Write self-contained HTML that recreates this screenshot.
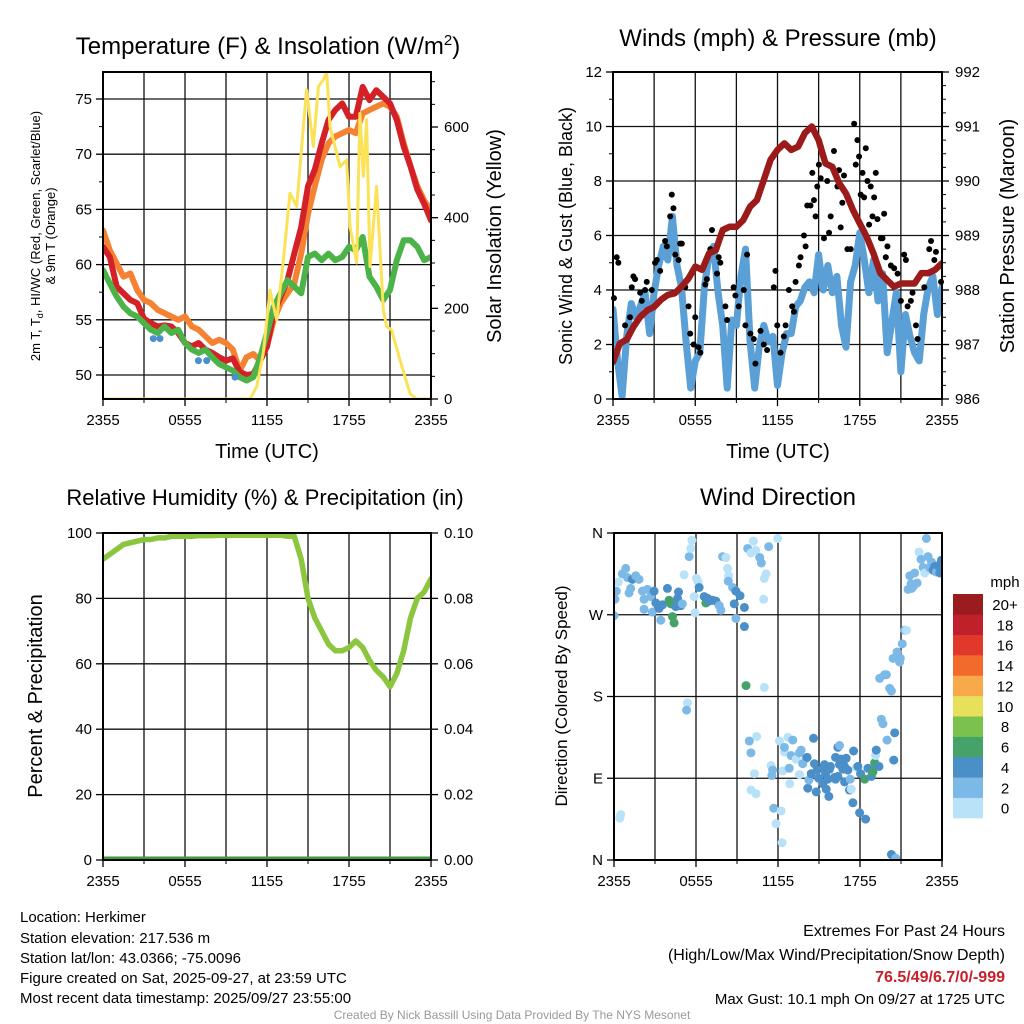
<!DOCTYPE html>
<html><head><meta charset="utf-8"><title>Herkimer Mesonet</title>
<style>
html,body{margin:0;padding:0;background:#fff;}
svg{display:block;font-family:"Liberation Sans",Arial,sans-serif;}
</style></head>
<body>
<svg id="chart" width="1024" height="1024" viewBox="0 0 1024 1024" xmlns="http://www.w3.org/2000/svg">
<rect width="1024" height="1024" fill="#fff"/>
<defs>
<clipPath id="c1"><rect x="103" y="72" width="328" height="327"/></clipPath>
<clipPath id="c2"><rect x="613" y="72" width="329" height="327"/></clipPath>
<clipPath id="c3"><rect x="103" y="533" width="328" height="327"/></clipPath>
<clipPath id="c4"><rect x="614" y="533" width="328" height="327"/></clipPath>
</defs>
<g id="grid"></g>
<g id="series"></g>
<g id="axes"></g>

<text x="268" y="54" font-size="24" text-anchor="middle">Temperature (F) &amp; Insolation (W/m<tspan dy="-9" font-size="15">2</tspan><tspan dy="9">)</tspan></text>
<text transform="translate(40,236) rotate(-90)" font-size="13" text-anchor="middle">2m T, T<tspan dy="3" font-size="9">d</tspan><tspan dy="-3">, HI/WC (Red, Green, Scarlet/Blue)</tspan></text>
<text transform="translate(55,236) rotate(-90)" font-size="13" text-anchor="middle">&amp; 9m T (Orange)</text>
<text transform="translate(501,236) rotate(-90)" font-size="20" text-anchor="middle">Solar Insolation (Yellow)</text>
<text x="267" y="458" font-size="20" text-anchor="middle">Time (UTC)</text>

<text x="778" y="46" font-size="24" text-anchor="middle">Winds (mph) &amp; Pressure (mb)</text>
<text transform="translate(572,236) rotate(-90)" font-size="18" text-anchor="middle">Sonic Wind &amp; Gust (Blue, Black)</text>
<text transform="translate(1014,236) rotate(-90)" font-size="20" text-anchor="middle">Station Pressure (Maroon)</text>
<text x="778" y="458" font-size="20" text-anchor="middle">Time (UTC)</text>

<text x="265" y="505" font-size="22" text-anchor="middle">Relative Humidity (%) &amp; Precipitation (in)</text>
<text transform="translate(42,696) rotate(-90)" font-size="20" text-anchor="middle">Percent &amp; Precipitation</text>

<text x="778" y="505" font-size="24" text-anchor="middle">Wind Direction</text>
<text transform="translate(567,696) rotate(-90)" font-size="17" text-anchor="middle">Direction (Colored By Speed)</text>

<g id="colorbar"></g>
<text x="1005" y="587" font-size="15" text-anchor="middle">mph</text>

<g font-size="15">
<text x="20" y="922">Location: Herkimer</text>
<text x="20" y="943">Station elevation: 217.536 m</text>
<text x="20" y="963">Station lat/lon: 43.0366; -75.0096</text>
<text x="20" y="983">Figure created on Sat, 2025-09-27, at 23:59 UTC</text>
<text x="20" y="1003">Most recent data timestamp: 2025/09/27 23:55:00</text>
</g>
<g font-size="16" text-anchor="end">
<text x="1005" y="936">Extremes For Past 24 Hours</text>
<text x="1005" y="960">(High/Low/Max Wind/Precipitation/Snow Depth)</text>
<text x="1005" y="982" fill="#c8202a" font-weight="bold">76.5/49/6.7/0/-999</text>
<text x="1005" y="1004" font-size="15">Max Gust: 10.1 mph On 09/27 at 1725 UTC</text>
</g>
<text x="512" y="1019" font-size="12" fill="#999" text-anchor="middle">Created By Nick Bassill Using Data Provided By The NYS Mesonet</text>
</svg>
<script>
// ---------- DATA ----------
const timeLabels = ["2355","0555","1155","1755","2355"];
const tempTicks = [50,55,60,65,70,75];
const solarTicks = [0,200,400,600];
const windTicks = [0,2,4,6,8,10,12];
const presTicks = [986,987,988,989,990,991,992];
const rhTicks = [0,20,40,60,80,100];
const precipTicks = ["0.00","0.02","0.04","0.06","0.08","0.10"];
const dirLabels = ["N","E","S","W","N"];
const speedBins = ["0","2","4","6","8","10","12","14","16","18","20+"];
const speedColors = ["#b8e2f8","#7db9e6","#4a8fc8","#45a36a","#7bc14e","#e8e05a","#f8a94a","#f26a2c","#e0392b","#c0202a","#9b1c1f"];

const tempT = [61.6,60.7,58.0,57.4,56.8,56.5,55.1,54.7,54.4,54.5,54.4,53.8,52.9,52.6,52.9,52.3,52.0,51.6,51.3,51.5,50.3,50.0,50.1,51.3,52.6,55.6,57.1,58.6,61.0,63.4,67.1,68.6,71.0,73.1,74.0,74.6,73.4,73.4,76.1,74.9,75.8,75.2,74.6,73.1,70.7,68.9,66.8,65.5,64.0];
const temp9m = [63.1,61.3,60.1,58.9,59.2,57.7,56.8,56.5,55.9,55.6,55.3,55.0,55.3,54.4,54.1,53.5,52.9,53.2,52.9,52.3,50.4,51.6,51.9,51.3,52.6,55.0,56.5,57.4,58.3,61.0,64.6,67.1,69.5,71.0,71.6,71.9,72.2,71.9,73.7,74.0,74.3,74.6,74.3,73.4,71.0,68.9,67.1,65.8,64.9];
const dewT = [59.5,58.3,57.1,56.2,55.6,55.3,54.7,54.1,53.8,54.4,53.8,54.1,52.9,52.3,52.0,52.3,51.6,51.0,50.7,50.4,49.8,49.5,49.8,51.6,53.8,56.2,57.4,58.6,58.0,57.4,60.7,61.0,60.4,61.0,60.4,60.7,61.6,61.3,62.5,58.9,58.0,56.8,57.7,60.4,62.2,62.2,61.6,60.4,60.7];
const wcHour = [3.68,4.17,6.98,7.59,9.66];
const wcTemp = [53.3,53.3,51.3,51.3,49.8];
const solarHour = [0,10.75,11.24,11.73,12.22,12.71,13.2,13.68,14.17,14.66,14.9,15.39,15.76,16.12,16.37,16.61,17.1,17.34,17.83,18.07,18.56,18.8,19.05,19.29,19.54,20.02,20.51,20.76,21.12,21.73,22.46,22.95,24];
const solarVal = [0,0,27,101,240,174,307,454,425,601,682,557,689,704,722,601,542,513,527,380,300,630,491,616,292,469,196,160,152,86,12,0,0];

const presMb = [986.68,987.02,987.09,987.33,987.51,987.63,987.69,987.82,987.91,987.94,988.06,988.21,988.43,988.37,988.67,988.73,989.10,989.16,989.16,989.28,989.53,989.65,990.02,990.39,990.57,990.69,990.57,990.63,990.88,991.0,990.75,990.32,990.26,989.96,989.77,989.47,989.22,988.98,988.67,988.31,988.18,988.06,988.12,988.12,988.12,988.31,988.31,988.37,988.49];
const windMph = [3.3,1.4,0.1,2.3,3.5,3.0,3.4,3.9,2.4,3.9,4.9,5.6,5.1,6.7,4.9,4.1,2.1,0.4,1.4,1.7,4.1,5.3,5.6,3.9,2.7,0.4,2.9,2.7,4.5,5.5,2.1,0.4,1.9,2.7,2.1,2.3,0.5,1.7,2.4,2.4,3.4,3.6,4.1,4.3,3.9,5.3,4.0,4.9,3.9,4.5,2.7,1.9,4.3,4.9,6.1,5.1,3.9,5.1,3.6,4.6,1.7,2.8,3.9,1.0,3.1,2.3,1.7,1.4,3.1,4.1,4.5,3.1,4.1];
const gustHour = [0.07,0.27,0.39,0.88,1.24,1.49,1.61,1.37,1.98,2.10,2.34,2.46,2.83,3.07,3.20,3.44,3.80,3.93,4.17,4.29,4.41,4.54,4.78,4.90,5.02,5.27,5.51,5.63,5.88,6.00,6.24,6.37,6.73,6.85,7.10,7.22,7.71,7.83,7.59,8.20,8.32,8.80,8.93,9.17,9.54,9.78,9.66,10.02,10.27,10.39,10.76,11.00,11.24,11.73,11.85,11.98,12.22,12.46,12.59,12.83,13.07,13.20,13.32,13.56,13.68,13.93,14.05,14.17,14.41,14.54,14.66,14.78,14.90,15.02,15.15,15.39,15.63,15.76,15.88,16.12,16.37,16.49,16.61,16.73,16.85,17.10,17.34,17.59,17.71,17.83,17.95,18.07,18.20,18.32,18.44,18.56,18.68,18.80,18.93,19.05,19.17,19.29,19.54,19.66,19.78,19.90,20.02,20.27,20.51,20.76,21.00,21.24,21.37,21.49,21.73,21.85,22.10,22.22,22.71,23.07,23.20,23.44,23.56,23.93];
const gustMph = [3.7,5.2,5.0,2.7,3.0,4.5,4.4,4.1,3.9,3.6,4.0,4.3,4.0,5.0,5.1,4.7,5.8,5.6,6.7,7.5,7.0,5.3,5.1,5.7,5.7,4.1,3.4,2.4,2.0,3.0,1.9,1.7,4.2,4.4,5.5,6.2,5.2,5.0,4.6,3.4,2.9,4.1,3.8,3.4,4.0,5.3,2.7,2.4,2.2,1.3,2.5,2.0,1.8,4.1,4.7,2.7,1.7,2.3,2.7,4.0,3.4,3.2,4.3,4.9,5.2,6.0,5.6,7.1,7.1,8.3,7.3,6.7,7.8,8.6,8.1,5.9,8.0,6.1,6.7,9.1,7.8,8.4,6.3,7.2,8.2,5.5,5.5,10.1,8.6,9.5,8.9,7.5,8.3,7.4,9.2,8.0,6.4,7.8,6.7,7.4,8.3,6.6,5.9,5.9,6.8,5.2,5.6,4.9,4.8,4.6,3.6,5.3,5.1,3.4,3.6,3.9,2.7,2.2,4.1,5.5,5.8,5.1,5.4,4.3];

const rhPct = [92,93.5,95,96.5,97,97.5,98,98,98.5,98.5,99,99,99,99,99.2,99.2,99.2,99.3,99.3,99.3,99.3,99.3,99.3,99.3,99.3,99.3,99.3,99,99,92,80,74,70,66,64,64,65,67,65,61,58,56,53,57,64,74,80,82,86,88].slice(0,49);
const precipIn = [0,0,0,0,0,0,0,0,0,0,0,0,0,0,0,0,0,0,0,0,0,0,0,0,0,0,0,0,0,0,0,0,0,0,0,0,0,0,0,0,0,0,0,0,0,0,0,0,0];

const dirHour = [0,0.07,0.17,0.32,0.61,0.86,0.98,1.34,1.22,1.1,1.59,1.83,2.08,2.2,2.2,2.44,2.69,2.93,3.06,2.81,3.3,3.42,3.55,3.91,4.03,4.16,4.28,4.4,4.52,4.65,4.72,4.89,5.0,5.5,5.62,5.7,5.13,5.38,5.31,5.87,5.93,6.04,6.15,6.23,6.6,6.72,6.97,6.85,7.21,7.46,7.7,7.82,7.95,8.19,8.31,8.39,8.36,8.68,8.8,8.92,8.92,9.22,9.54,9.54,9.66,9.78,10.02,10.2,10.37,10.66,10.78,11.0,11.13,10.95,11.32,11.98,11.0,
0.49,0.42,9.9,10.02,10.44,10.27,10.02,10.39,11.49,11.61,11.55,11.69,11.86,12.23,12.3,12.35,12.11,12.47,12.72,12.47,12.82,12.96,12.86,13.08,13.33,13.57,13.57,13.69,13.81,14.06,14.18,14.26,14.43,14.6,14.13,14.67,14.8,14.87,14.97,15.28,15.4,15.48,15.28,15.53,15.65,15.72,15.77,15.84,16.14,16.21,16.38,16.38,16.5,16.21,16.75,16.87,16.99,16.87,17.11,17.23,17.28,17.36,17.48,17.53,17.73,17.85,17.97,18.04,18.34,18.41,18.58,18.83,18.9,18.95,19.07,19.14,19.19,19.39,20.54,20.47,16.5,16.62,
19.56,19.68,19.98,20.3,20.61,19.44,19.8,19.93,20.17,20.3,20.42,20.71,20.95,20.9,21.09,21.28,21.4,21.52,21.74,21.64,21.89,21.77,22.0,22.18,22.32,22.47,22.62,22.74,22.86,22.98,23.1,23.23,23.35,23.47,23.59,23.71,23.84,23.96];
const dirDeg = [269,287,296,306,315,321,311,309,299,294,313,309,296,287,276,298,290,296,283,273,277,264,281,299,286,282,268,261,279,288,295,280,282,334,343,352,314,173,165,290,272,310,306,300,290,283,285,288,286,285,280,275,334,333,321,313,307,300,282,266,296,291,278,257,192,343,338,351,341,333,327,310,315,287,345,354,190,
50,46,131,118,136,95,77,73,104,99,93,57,40,54,19,98,131,119,135,124,101,115,84,132,111,118,94,121,106,112,79,88,95,134,113,106,75,99,90,101,105,95,84,78,89,70,100,103,91,89,92,124,126,113,100,86,112,103,99,77,89,78,63,120,102,103,52,95,89,45,101,92,98,97,107,115,121,103,140,110,105,111,155,150,132,6,2,
200,204,204,189,186,222,229,222,218,238,253,253,298,304,313,301,299,316,305,339,331,322,316,354,334,322,328,319,323,317,324,316,330,324,317,312,315,311];
const dirSpeed = [2.5,2.5,2.5,1,2.5,2.5,2.5,4.5,2.5,2.5,2.5,2.5,2.5,2.5,2.5,2.5,2.5,4.5,4.5,2.5,4.5,2.5,4.5,4.5,6.5,6.5,6.5,6.5,4.5,4.5,4.5,4.5,2.5,2.5,1,1,1,1,2.5,1,1,1,1,4.5,4.5,6.5,4.5,4.5,4.5,4.5,2.5,2.5,2.5,1,1,1,2.5,2.5,4.5,2.5,4.5,4.5,4.5,4.5,6.5,2.5,1,1,1,2.5,2.5,1,1,1,2.5,1,1,
1,1,2.5,2.5,1,1,1,1,1,2.5,2.5,2.5,1,1,1,1,1,1,1,2.5,2.5,2.5,1,2.5,1,2.5,1,2.5,2.5,2.5,4.5,2.5,4.5,4.5,4.5,4.5,4.5,4.5,4.5,4.5,4.5,4.5,4.5,4.5,4.5,4.5,4.5,4.5,4.5,4.5,4.5,4.5,2.5,4.5,4.5,4.5,4.5,4.5,4.5,4.5,2.5,1,4.5,4.5,1,4.5,4.5,4.5,6.5,4.5,4.5,4.5,4.5,6.5,6.5,1,4.5,4.5,4.5,4.5,4.5,4.5,2.5,2.5,2.5,4.5,2.5,
2.5,2.5,2.5,2.5,2.5,2.5,2.5,2.5,2.5,2.5,2.5,1,2.5,2.5,2.5,2.5,2.5,2.5,2.5,1,2.5,2.5,1,2.5,2.5,2.5,2.5,4.5,4.5,2.5,4.5,4.5,4.5,2.5,2.5,4.5,4.5];

// ---------- SCALES ----------
const NS = "http://www.w3.org/2000/svg";
const gGrid = document.getElementById('grid');
const gSer = document.getElementById('series');
const gAx = document.getElementById('axes');
function mk(tag, parent){ const e = document.createElementNS(NS, tag); parent.appendChild(e); return e; }
const xL = h => 103 + h * (328/24);
const xR = h => 613 + h * (329/24);
const xR4 = h => 614 + h * (328/24);
const yTemp = v => 375 - (v - 50) * 11.04;
const ySol = w => 399 - w * 0.4533;
const yWind = m => 399 - m * 27.25;
const yPres = p => 399 - (p - 986) * 54.5;
const yRH = r => 860 - r * 3.27;
const yPrec = p => 860 - p * 3270;
const yDir = d => 860 - d / 360 * 327;
const halfHours = tempT.map((_, i) => i * 0.5);
const thirdHours = windMph.map((_, i) => i / 3);
function speedColor(s){ let i = Math.min(speedColors.length - 1, Math.floor(s / 2)); return speedColors[i]; }

function line(parent, x1, y1, x2, y2, stroke, w){
  const l = mk('line', parent);
  l.setAttribute('x1', x1); l.setAttribute('y1', y1); l.setAttribute('x2', x2); l.setAttribute('y2', y2);
  l.setAttribute('stroke', stroke); l.setAttribute('stroke-width', w);
  return l;
}
function txt(parent, x, y, s, anchor, size){
  const t = mk('text', parent);
  t.setAttribute('x', x); t.setAttribute('y', y); t.setAttribute('font-size', size || 15);
  t.setAttribute('text-anchor', anchor); t.textContent = s;
  return t;
}
function poly(parent, xs, ys, stroke, w, clip){
  const p = mk('polyline', parent);
  p.setAttribute('points', xs.map((x, i) => x.toFixed(1) + ',' + ys[i].toFixed(1)).join(' '));
  p.setAttribute('fill', 'none'); p.setAttribute('stroke', stroke); p.setAttribute('stroke-width', w);
  p.setAttribute('stroke-linejoin', 'round'); p.setAttribute('stroke-linecap', 'round');
  p.setAttribute('clip-path', 'url(#' + clip + ')');
  return p;
}

// ---------- GRIDS & AXES ----------
const panels = [
  {x0:103, x1:431, y0:72, y1:399, xf:xL, name:'temp'},
  {x0:613, x1:942, y0:72, y1:399, xf:xR, name:'winds'},
  {x0:103, x1:431, y0:533, y1:860, xf:xL, name:'humidity'},
  {x0:614, x1:942, y0:533, y1:860, xf:xR4, name:'direction'}
];
panels.forEach(P => {
  for (let h = 3; h < 24; h += 3) {
    const g = line(gGrid, P.xf(h), P.y0, P.xf(h), P.y1, '#111', 1.3);
    
    
  }
  const fr = mk('rect', gAx);
  fr.setAttribute('x', P.x0); fr.setAttribute('y', P.y0); fr.setAttribute('width', P.x1 - P.x0); fr.setAttribute('height', P.y1 - P.y0);
  fr.setAttribute('fill', 'none'); fr.setAttribute('stroke', '#000'); fr.setAttribute('stroke-width', 2);
  
  
  timeLabels.forEach((s, i) => {
    const xx = P.xf(i * 6);
    line(gAx, xx, P.y1, xx, P.y1 + 7, '#000', 1.3);
    const t = txt(gAx, xx, P.y1 + 26, s, 'middle', 15);
    
    
  });
  for (let h = 3; h < 24; h += 6) line(gAx, P.xf(h), P.y1, P.xf(h), P.y1 + 4, '#000', 1);
});

function hGrid(ticks, yf, P, nm){
  ticks.forEach(v => {
    const g = line(gGrid, P.x0, yf(v), P.x1, yf(v), '#111', 1.3);
    
    
  });
}
function yAxisLabels(ticks, labels, yf, x, side, nm){
  ticks.forEach((v, i) => {
    const y = yf(v);
    line(gAx, x, y, side === 'left' ? x - 7 : x + 7, y, '#000', 1.3);
    const t = txt(gAx, side === 'left' ? x - 11 : x + 13, y + 5, labels[i], side === 'left' ? 'end' : 'start', 15);
    
    
  });
}
function minorTicks(vals, yf, x, side){
  vals.forEach(v => line(gAx, x, yf(v), side === 'left' ? x - 4 : x + 4, yf(v), '#000', 1));
}
hGrid(tempTicks, yTemp, panels[0], 'temp');
yAxisLabels(tempTicks, tempTicks.map(String), yTemp, 103, 'left', 'temp-y');
minorTicks([47.5,52.5,57.5,62.5,67.5,72.5,77.5].filter(v => yTemp(v) > 72 && yTemp(v) < 399), yTemp, 103, 'left');
yAxisLabels(solarTicks, solarTicks.map(String), ySol, 431, 'right', 'solar-y');
minorTicks([50,100,150,250,300,350,450,500,550,650,700], ySol, 431, 'right');
hGrid(windTicks.slice(1, 6), yWind, panels[1], 'winds');
yAxisLabels(windTicks, windTicks.map(String), yWind, 613, 'left', 'wind-y');
minorTicks([1,3,5,7,9,11], yWind, 613, 'left');
yAxisLabels(presTicks, presTicks.map(String), yPres, 942, 'right', 'pressure-y');
minorTicks([986.25,986.5,986.75,987.25,987.5,987.75,988.25,988.5,988.75,989.25,989.5,989.75,990.25,990.5,990.75,991.25,991.5,991.75], yPres, 942, 'right');
hGrid(rhTicks.slice(1, 5), yRH, panels[2], 'humidity');
yAxisLabels(rhTicks, rhTicks.map(String), yRH, 103, 'left', 'rh-y');
yAxisLabels(precipTicks.map(Number), precipTicks, yPrec, 431, 'right', 'precip-y');
hGrid([90,180,270], yDir, panels[3], 'direction');
yAxisLabels([0,90,180,270,360], dirLabels, yDir, 614, 'left', 'direction-y');

// ---------- SERIES ----------
let s;
s = poly(gSer, halfHours.map(xL), temp9m.map(yTemp), '#f58233', 6, 'c1');


s = poly(gSer, halfHours.map(xL), tempT.map(yTemp), '#d42027', 6, 'c1');


s = poly(gSer, halfHours.map(xL), dewT.map(yTemp), '#4cb348', 6, 'c1');


wcHour.forEach((h, i) => {
  const c = mk('circle', gSer);
  c.setAttribute('cx', xL(h)); c.setAttribute('cy', yTemp(wcTemp[i])); c.setAttribute('r', 3.5);
  c.setAttribute('fill', '#4a8fd0');
  
  
});
s = poly(gSer, solarHour.map(xL), solarVal.map(ySol), '#fbe256', 3, 'c1');



s = poly(gSer, thirdHours.map(xR), windMph.map(yWind), '#5a9fd6', 7, 'c2');


gustHour.forEach((h, i) => {
  const c = mk('circle', gSer);
  c.setAttribute('cx', xR(h)); c.setAttribute('cy', yWind(gustMph[i])); c.setAttribute('r', 3);
  c.setAttribute('fill', '#000');
  
  
});
s = poly(gSer, halfHours.map(xR), presMb.map(yPres), '#9b1b1b', 6.5, 'c2');



s = poly(gSer, halfHours.map(xL), rhPct.map(yRH), '#8cc63f', 5.5, 'c3');


s = poly(gSer, halfHours.map(xL), precipIn.map(yPrec), '#3d9a3d', 7, 'c3');



dirHour.forEach((h, i) => {
  const c = mk('circle', gSer);
  c.setAttribute('cx', xR4(h)); c.setAttribute('cy', yDir(dirDeg[i])); c.setAttribute('r', 4.5);
  c.setAttribute('fill', speedColor(dirSpeed[i]));
  c.setAttribute('clip-path', 'url(#c4)');
  
  
});

// ---------- COLORBAR ----------
const gCb = document.getElementById('colorbar');
speedBins.forEach((lab, i) => {
  const top = 818 - (i + 1) * (224 / 11);
  const r = mk('rect', gCb);
  r.setAttribute('x', 953); r.setAttribute('y', top); r.setAttribute('width', 30); r.setAttribute('height', 224 / 11 + 0.3);
  r.setAttribute('fill', speedColors[i]);
  
  
  const t = txt(gCb, 1005, top + 16, lab, 'middle', 15);
  
  
});
</script>
</body></html>
